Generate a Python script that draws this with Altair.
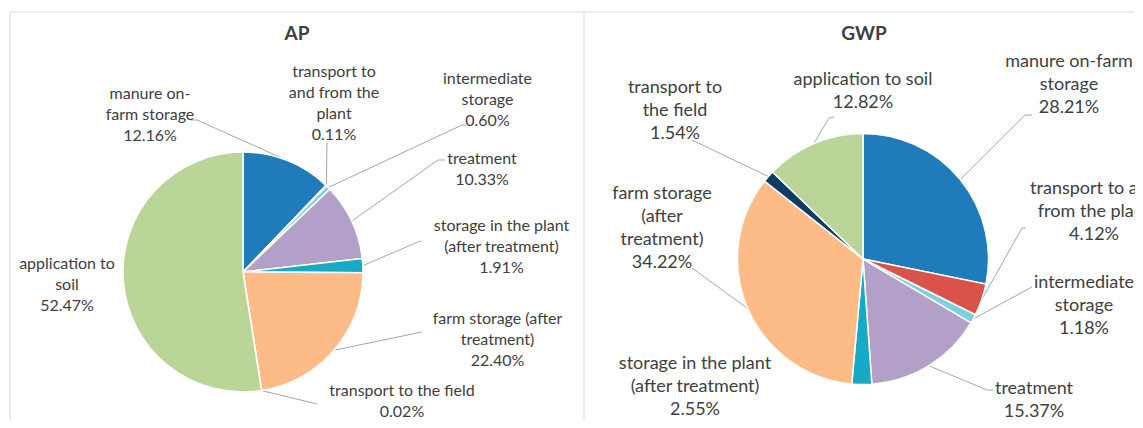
import numpy as np
import pandas as pd
import altair as alt

# ---------------- data ----------------
categories = [
    "manure on-farm storage",
    "transport to and from the plant",
    "intermediate storage",
    "treatment",
    "storage in the plant (after treatment)",
    "farm storage (after treatment)",
    "transport to the field",
    "application to soil",
]
ap_values = [12.16, 0.11, 0.60, 10.33, 1.91, 22.40, 0.02, 52.47]
gwp_values = [28.21, 4.12, 1.18, 15.37, 2.55, 34.22, 1.54, 12.82]

ap_names = [
    "manure on-\nfarm storage",
    "transport to\nand from the\nplant",
    "intermediate\nstorage",
    "treatment",
    "storage in the plant\n(after treatment)",
    "farm storage (after\ntreatment)",
    "transport to the field",
    "application to\nsoil",
]
gwp_names = [
    "manure on-farm\nstorage",
    "transport to and\nfrom the plant",
    "intermediate\nstorage",
    "treatment",
    "storage in the plant\n(after treatment)",
    "farm storage\n(after\ntreatment)",
    "transport to\nthe field",
    "application to soil",
]
titles = ["AP", "GWP"]

# ---------------- style / layout ----------------
colors = ["#1F7BBA", "#D9534B", "#7CD0E2", "#B3A0C8", "#17AAC6", "#FDBC87", "#0E3D64", "#BAD597"]
TXT = "#404040"
LEAD = "#A6A6A6"
FONT = "Lato"

# pie centres / radii (page pixels)
ap_center, ap_r = (243, 272), 120
gwp_center, gwp_r = (863, 259), 125.5
ap_title_pos = (297, 34)
gwp_title_pos = (864, 34)

# label positions: (centre x, first-line y)
ap_label_pos = [(150, 93.5), (334, 72), (487.5, 78.5), (482, 159), (501.5, 226), (497.5, 318.5), (402, 391), (67, 264)]
gwp_label_pos = [(1069, 62), (1094, 188.5), (1084, 283), (1034, 388.5), (695, 364), (662, 193.5), (675, 87.5), (863, 80)]

# leader line points after the slice edge (None = no leader)
ap_leader_pts = [
    [(197, 120), (191, 120)],
    [(327, 143)],
    [(462, 125), (466, 125)],
    [(438, 160), (445, 160)],
    [(418, 242), (421, 241)],
    [(422, 332)],
    [(317, 404)],
    None,
]
gwp_leader_pts = [
    [(1025, 115), (1032, 115)],
    [(1022, 228), (1026, 228)],
    [(1032, 287)],
    [(987, 390), (993, 390)],
    None,
    [(692, 268)],
    [(692, 140)],
    [(829, 118), (834, 117)],
]

XS = alt.Scale(domain=[8, 1135], nice=False, zero=False)
YS = alt.Scale(domain=[8, 420], nice=False, zero=False, reverse=True)


def pie_layers(values, names, center, r, label_pos, leaders, font_size, line_h, title, title_pos):
    df = pd.DataFrame({"category": categories, "value": values, "idx": range(len(values))})
    arc = alt.Chart(df).mark_arc(radius=r, stroke="white", strokeWidth=1.5).encode(
        theta=alt.Theta("value:Q", stack=True),
        order=alt.Order("idx:Q"),
        color=alt.Color("category:N", scale=alt.Scale(domain=categories, range=colors), legend=None),
        x=alt.X(datum=center[0], scale=XS, axis=None),
        y=alt.Y(datum=center[1], scale=YS, axis=None),
    )

    # leader lines: start at the slice edge, angle derived from the data
    tot = float(np.sum(values))
    cum = np.cumsum(values) - np.array(values) / 2.0
    segs = []
    for i, pts in enumerate(leaders):
        if pts is None:
            continue
        a = cum[i] / tot * 2 * np.pi
        start = (center[0] + r * np.sin(a), center[1] - r * np.cos(a))
        chain = [start] + list(pts)
        for p, q in zip(chain[:-1], chain[1:]):
            segs.append({"x1": p[0], "y1": p[1], "x2": q[0], "y2": q[1]})
    lead = alt.Chart(pd.DataFrame(segs)).mark_rule(color=LEAD, strokeWidth=1).encode(
        x=alt.X("x1:Q", scale=XS, axis=None),
        y=alt.Y("y1:Q", scale=YS, axis=None),
        x2="x2:Q",
        y2="y2:Q",
    )

    texts = [f"{n}\n{v:.2f}%" for n, v in zip(names, values)]
    tdf = pd.DataFrame({"text": texts, "lx": [p[0] for p in label_pos], "ly": [p[1] for p in label_pos]})
    lab = alt.Chart(tdf).mark_text(
        lineBreak="\n", align="center", baseline="middle", font=FONT,
        fontSize=font_size, lineHeight=line_h, color=TXT,
    ).encode(
        x=alt.X("lx:Q", scale=XS, axis=None),
        y=alt.Y("ly:Q", scale=YS, axis=None),
        text="text:N",
    )

    ttl = alt.Chart(pd.DataFrame({"t": [title], "tx": [title_pos[0]], "ty": [title_pos[1]]})).mark_text(
        font=FONT, fontSize=19, fontWeight="bold", color=TXT, align="center", baseline="middle"
    ).encode(
        x=alt.X("tx:Q", scale=XS, axis=None),
        y=alt.Y("ty:Q", scale=YS, axis=None),
        text="t:N",
    )
    return [lead, arc, lab, ttl]


# panel borders
border_df = pd.DataFrame({
    "x1": [10, 10, 584],
    "y1": [12, 12, 12],
    "x2": [1135, 10, 584],
    "y2": [12, 420, 420],
})
borders = alt.Chart(border_df).mark_rule(color="#D9D9D9", strokeWidth=1).encode(
    x=alt.X("x1:Q", scale=XS, axis=None),
    y=alt.Y("y1:Q", scale=YS, axis=None),
    x2="x2:Q",
    y2="y2:Q",
)

layers = [borders]
layers += pie_layers(ap_values, ap_names, ap_center, ap_r, ap_label_pos, ap_leader_pts, 16, 21, titles[0], ap_title_pos)
layers += pie_layers(gwp_values, gwp_names, gwp_center, gwp_r, gwp_label_pos, gwp_leader_pts, 18, 23, titles[1], gwp_title_pos)

chart = alt.layer(*layers).resolve_scale(theta="independent").properties(
    width=1127, height=412, padding=0, autosize=alt.AutoSizeParams(type="none"),
).configure_view(stroke=None)

chart.save("out.html", embed_options={"renderer": "svg", "actions": False})
